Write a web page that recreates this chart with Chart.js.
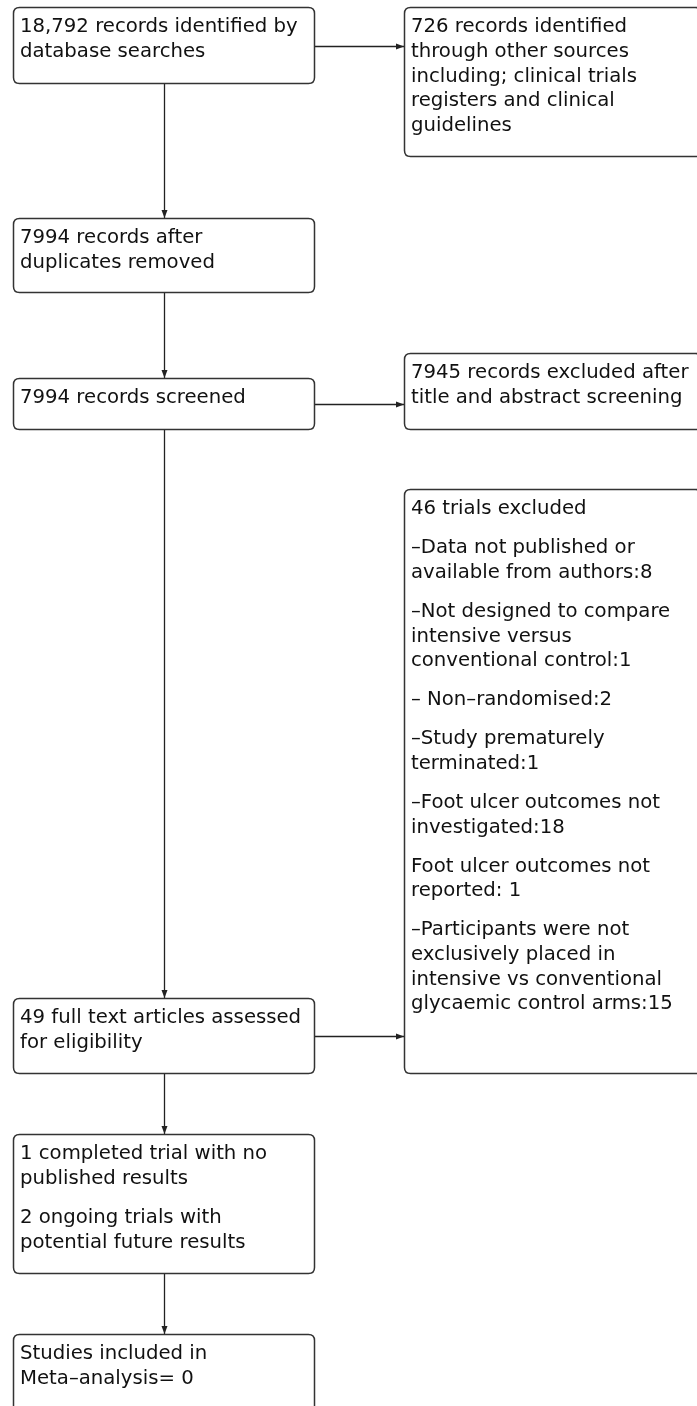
<!DOCTYPE html>
<html>
<head>
<meta charset="utf-8">
<script src="https://cdn.jsdelivr.net/npm/chart.js@4/dist/chart.umd.min.js"></script>
<style>
  html, body { margin: 0; padding: 0; background: #fff; }
  #wrap { width: 697px; height: 1406px; }
</style>
</head>
<body>
<div id="wrap"><canvas id="flowChart" width="697" height="1406"></canvas></div>
<script>
// box contents: paragraphs, each a list of lines
const stepIds = ['database', 'otherSources', 'deduped', 'screened', 'excludedScreening',
                 'excludedTrials', 'fullText', 'noResults', 'included'];
const stepTexts = [
    [['18,792 records identified by', 'database searches']],
    [['726 records identified', 'through other sources', 'including; clinical trials', 'registers and clinical', 'guidelines']],
    [['7994 records after', 'duplicates removed']],
    [['7994 records screened']],
    [['7945 records excluded after', 'title and abstract screening']],
    [
        ['46 trials excluded'],
        ['\u2013Data not published or', 'available from authors:8'],
        ['\u2013Not designed to compare', 'intensive versus', 'conventional control:1'],
        ['\u2013 Non\u2013randomised:2'],
        ['\u2013Study prematurely', 'terminated:1'],
        ['\u2013Foot ulcer outcomes not', 'investigated:18'],
        ['Foot ulcer outcomes not', 'reported: 1'],
        ['\u2013Participants were not', 'exclusively placed in', 'intensive vs conventional', 'glycaemic control arms:15']
    ],
    [['49 full text articles assessed', 'for eligibility']],
    [['1 completed trial with no', 'published results'], ['2 ongoing trials with', 'potential future results']],
    [['Studies included in', 'Meta\u2013analysis= 0']]
];
// connectors: [from, to, direction]
const stepLinks = [
    ['database', 'otherSources', 'right'],
    ['database', 'deduped', 'down'],
    ['deduped', 'screened', 'down'],
    ['screened', 'excludedScreening', 'right'],
    ['screened', 'fullText', 'down'],
    ['fullText', 'excludedTrials', 'right'],
    ['fullText', 'noResults', 'down'],
    ['noResults', 'included', 'down']
];

// layout (chart units, same as page pixels): [left, top, right, bottom]
const boxLayout = {
    database:          [13, 7, 315, 84],
    otherSources:      [404, 7, 702, 157],
    deduped:           [13, 218, 315, 293],
    screened:          [13, 378, 315, 430],
    excludedScreening: [404, 353, 702, 430],
    excludedTrials:    [404, 489, 702, 1074],
    fullText:          [13, 998, 315, 1074],
    noResults:         [13, 1134, 315, 1274],
    included:          [13, 1334, 315, 1420]
};

const FONT = '19.7px "DejaVu Sans"';
const LINE_H = 24.7;
const PARA_GAP = 14.3;

function roundRect(ctx, x0, y0, x1, y1, r) {
    ctx.beginPath();
    ctx.moveTo(x0 + r, y0);
    ctx.lineTo(x1 - r, y0);
    ctx.quadraticCurveTo(x1, y0, x1, y0 + r);
    ctx.lineTo(x1, y1 - r);
    ctx.quadraticCurveTo(x1, y1, x1 - r, y1);
    ctx.lineTo(x0 + r, y1);
    ctx.quadraticCurveTo(x0, y1, x0, y1 - r);
    ctx.lineTo(x0, y0 + r);
    ctx.quadraticCurveTo(x0, y0, x0 + r, y0);
    ctx.closePath();
}

function arrow(ctx, x0, y0, x1, y1) {
    ctx.beginPath();
    ctx.moveTo(x0, y0);
    ctx.lineTo(x1, y1);
    ctx.stroke();
    const ang = Math.atan2(y1 - y0, x1 - x0);
    const len = 8, half = 3;
    ctx.beginPath();
    ctx.moveTo(x1, y1);
    ctx.lineTo(x1 - len * Math.cos(ang) + half * Math.sin(ang), y1 - len * Math.sin(ang) - half * Math.cos(ang));
    ctx.lineTo(x1 - len * Math.cos(ang) - half * Math.sin(ang), y1 - len * Math.sin(ang) + half * Math.cos(ang));
    ctx.closePath();
    ctx.fill();
}

const flowPlugin = {
    id: 'flowBoxes',
    afterDatasetsDraw(chart) {
        const ctx = chart.ctx;
        const xs = chart.scales.x, ys = chart.scales.y;
        const px = v => xs.getPixelForValue(v);
        const py = v => ys.getPixelForValue(v);
        const box = id => {
            const b = boxLayout[id];
            return { l: px(b[0]), t: py(b[1]), r: px(b[2]), b: py(b[3]) };
        };

        ctx.save();
        // connectors
        ctx.strokeStyle = '#222';
        ctx.fillStyle = '#222';
        ctx.lineWidth = 1.3;
        stepLinks.forEach(([from, to, dir]) => {
            const a = box(from), b = box(to);
            if (dir === 'right') {
                const y = Math.round((a.t + a.b) / 2) + 0.5;
                arrow(ctx, a.r, y, b.l, y);
            } else {
                const x = Math.round((a.l + a.r) / 2) + 0.5;
                arrow(ctx, x, a.b, x, b.t);
            }
        });

        // boxes and text
        stepIds.forEach((id, i) => {
            const b = box(id);
            ctx.fillStyle = '#fff';
            ctx.strokeStyle = '#333';
            ctx.lineWidth = 1.5;
            roundRect(ctx, b.l + 0.5, b.t + 0.5, b.r - 0.5, b.b - 0.5, 6);
            ctx.fill();
            ctx.stroke();

            ctx.fillStyle = '#111';
            ctx.font = FONT;
            ctx.textAlign = 'left';
            ctx.textBaseline = 'middle';
            let y = b.t + 20;
            stepTexts[i].forEach((para, p) => {
                if (p > 0) y += PARA_GAP;
                para.forEach(line => {
                    ctx.fillText(line, b.l + 7, y);
                    y += LINE_H;
                });
            });
        });
        ctx.restore();
    }
};

// one invisible point per step so the scales carry the layout
const stepCentres = stepIds.map(id => {
    const b = boxLayout[id];
    return { x: (b[0] + b[2]) / 2, y: (b[1] + b[3]) / 2 };
});

new Chart(document.getElementById('flowChart'), {
    type: 'scatter',
    data: {
        datasets: [{ label: 'steps', data: stepCentres, pointRadius: 0, pointHoverRadius: 0 }]
    },
    options: {
        responsive: false,
        animation: false,
        layout: { padding: 0 },
        plugins: { legend: { display: false }, tooltip: { enabled: false } },
        scales: {
            x: { type: 'linear', min: 0, max: 697, display: false },
            y: { type: 'linear', min: 0, max: 1406, reverse: true, display: false }
        }
    },
    plugins: [flowPlugin]
});
</script>
</body>
</html>
